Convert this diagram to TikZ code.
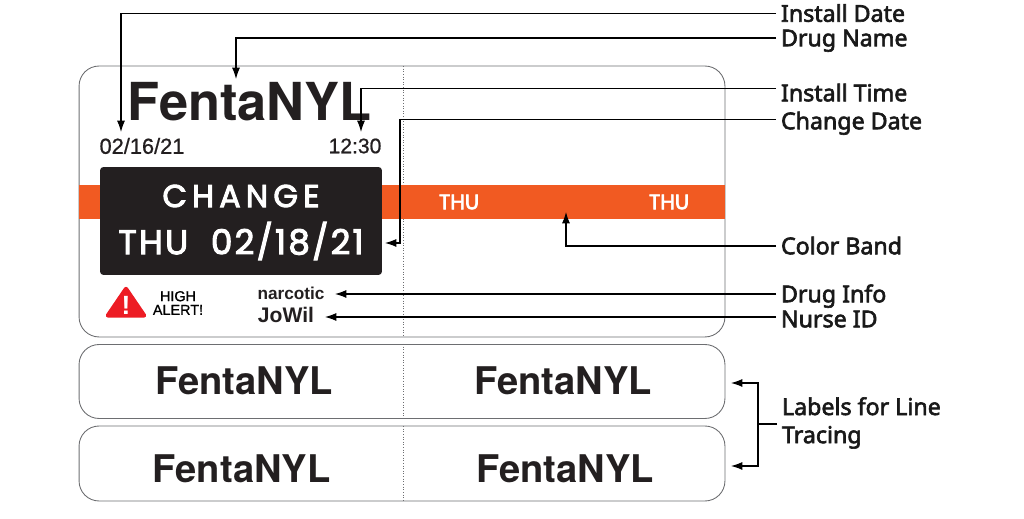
\documentclass[tikz,border=0pt]{standalone}
\usepackage{fontspec}
\setmainfont{Liberation Sans}
\newfontfamily\labelfont[FakeBold=2.6]{Noto Sans}
\newfontfamily\bandfont[FakeBold=3]{Poppins}
\newfontfamily\datefont[FakeBold=3,LetterSpace=6.5]{Poppins}
\newfontfamily\drugfont{TeX Gyre Heros}
\newfontfamily\tagfont[FakeBold=0.8]{Liberation Sans}
\usetikzlibrary{arrows.meta}
\definecolor{bandorange}{HTML}{F15A22}
\definecolor{boxblack}{HTML}{231F20}
\definecolor{alertred}{HTML}{ED1C24}
\definecolor{cardgray}{HTML}{6D6E71}
\begin{document}
\begin{tikzpicture}[x=0.02cm,y=-0.02cm,>={Latex[length=6.5pt,width=4.6pt]}]
        \tikzstyle{card} = [draw=cardgray, line width=0.5pt, rounded corners=0.4cm, minimum width=12.92cm, inner sep=0pt]
        \tikzstyle{ptr} = [line width=0.6pt, black]
        \tikzstyle{callout} = [anchor=west, inner sep=0pt, outer sep=2.85pt, text height=9.4pt, text depth=0pt, font=\labelfont\fontsize{13.2}{15}\selectfont, text=black!90]
        \tikzstyle{drug} = [inner sep=0pt, font=\drugfont\bfseries\fontsize{21.7}{24}\selectfont, text=boxblack]
        \tikzstyle{small} = [inner sep=0pt, text=boxblack]
        \tikzstyle{dashline} = [densely dotted, cardgray, line width=0.5pt]
        \useasboundingbox (0,0) rectangle (1024,519);

        % cards
        \node[card, minimum height=5.42cm] (main) at (402,201.5) {};
        \node[card, minimum height=1.48cm] (strip1) at (402,381.5) {};
        \node[card, minimum height=1.5cm] (strip2) at (402,463.5) {};
        \draw[dashline] (403,66) -- (403,337);
        \draw[dashline] (403,344) -- (403,419);
        \draw[dashline] (403,426) -- (403,501);

        % band and change box
        \node[fill=bandorange, minimum width=12.92cm, minimum height=0.68cm, inner sep=0pt] (band) at (402,202) {};
        \node[fill=boxblack, rounded corners=2pt, minimum width=5.64cm, minimum height=2.16cm, inner sep=0pt] (box) at (241,221) {};
        \node[text=white, inner sep=0pt, font=\bandfont\fontsize{18}{20}\selectfont] (change) at (241,196) {C\,H\,A\,N\,G\,E};
        \node[text=white, inner sep=0pt, font=\datefont\fontsize{19.5}{22}\selectfont] (cdate) at (241,241) {THU\ \ 02/18/21};
        \node[text=white, inner sep=0pt, font=\bandfont\fontsize{12}{14}\selectfont] (thu1) at (459,202) {THU};
        \node[text=white, inner sep=0pt, font=\bandfont\fontsize{12}{14}\selectfont] (thu2) at (669,202) {THU};

        % card text
        \node[drug, font=\drugfont\bfseries\fontsize{29.8}{36}\selectfont] (name) at (249.5,102) {FentaNYL};
        \node[small, font=\tagfont\fontsize{12.4}{14}\selectfont] (date) at (142,146) {02/16/21};
        \node[small, font=\tagfont\fontsize{12}{14}\selectfont] (time) at (355,146) {12:30};
        \node[small, font=\bfseries\fontsize{9.8}{12}\selectfont] (narc) at (291,293) {narcotic};
        \node[small, font=\bfseries\fontsize{12}{14}\selectfont] (nurse) at (286,315) {JoWil};
        \node[small, align=center, text=black, font=\tagfont\fontsize{8.2}{7.8}\selectfont] (high) at (178,303) {HIGH\\ALERT!};
        \fill[alertred, draw=alertred, line width=2.5pt, line join=round] (126,289) -- (144,315.5) -- (108,315.5) -- cycle;
        \node[text=white, inner sep=0pt, font=\bfseries\fontsize{15}{15}\selectfont] (bang) at (126,305) {!};

        % strip text
        \node[drug] (s1a) at (244,381) {FentaNYL};
        \node[drug] (s1b) at (563,381) {FentaNYL};
        \node[drug] (s2a) at (241.5,469) {FentaNYL};
        \node[drug] (s2b) at (565,469) {FentaNYL};

        % callouts
        \node[callout] (linstall) at (776,13.5) {Install Date};
        \node[callout] (lname) at (776,38) {Drug Name};
        \node[callout] (ltime) at (776,93) {Install Time};
        \node[callout] (lchange) at (776,121) {Change Date};
        \node[callout] (lband) at (776,246) {Color Band};
        \node[callout] (linfo) at (776,294) {Drug Info};
        \node[callout] (lnurse) at (776,319) {Nurse ID};
        \node[callout, align=left, text height=, text depth=, font=\labelfont\fontsize{13.2}{16}\selectfont] (ltrace) at (777,423) {Labels for Line\\Tracing};

        \coordinate (pinstall) at (121,132);
        \coordinate (pname) at (236,79);
        \coordinate (ptime) at (361,132);
        \coordinate (pchange) at (385,243);
        \coordinate (pband) at (566,212);
        \coordinate (pinfo) at (335,294);
        \coordinate (pnurse) at (325,317);
        \coordinate (ptrace) at (758,424);
        \coordinate (pstrip1) at (731,383);
        \coordinate (pstrip2) at (731,466);

        \draw[ptr, ->] (linstall.west) -| (pinstall);
        \draw[ptr, ->] (lname.west) -| (pname);
        \draw[ptr, ->] ([yshift=2.3pt]ltime.west) -| (ptime);
        \draw[ptr, ->] ([yshift=1.1pt]lchange.west) -| (400,243) -- (pchange);
        \draw[ptr, ->] (lband.west) -| (pband);
        \draw[ptr, ->] (linfo.west) -- (pinfo);
        \draw[ptr, ->] (pnurse -| lnurse.west) -- (pnurse);
        \draw[ptr] (ptrace -| ltrace.west) -- (ptrace);
        \draw[ptr, ->] (ptrace) |- (pstrip1);
        \draw[ptr, ->] (ptrace) |- (pstrip2);
\end{tikzpicture}
\end{document}
